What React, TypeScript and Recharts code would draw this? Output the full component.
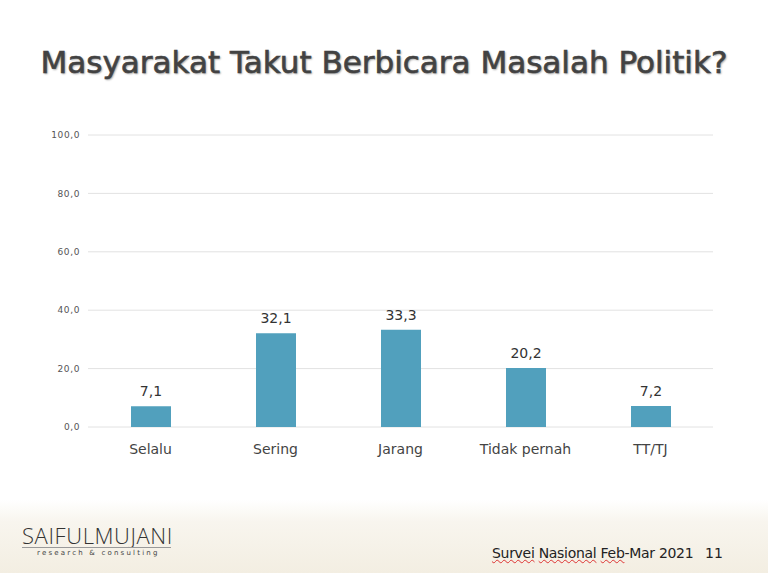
import { BarChart, Bar, XAxis, YAxis, CartesianGrid, LabelList } from "recharts";

const categories = ["Selalu", "Sering", "Jarang", "Tidak pernah", "TT/TJ"];
const values = [7.1, 32.1, 33.3, 20.2, 7.2];
const yTicks = [0, 20, 40, 60, 80, 100];

const data = categories.map((name, i) => ({ name, value: values[i] }));

const fmt = (v: number) => v.toFixed(1).replace(".", ",");

export default function App() {
  return (
    <div
      style={{
        position: "absolute",
        top: 0,
        left: 0,
        width: 768,
        height: 573,
        background: "#fff",
        overflow: "hidden",
        fontFamily: "'DejaVu Sans', Verdana, sans-serif",
      }}
    >
      {/* faint batik band at the bottom */}
      <div
        style={{
          position: "absolute",
          left: 0,
          top: 500,
          width: 768,
          height: 73,
          background: "linear-gradient(to bottom, #ffffff 0%, #f8f5ee 30%, #f3eee2 100%)",
        }}
      />
      <div
        style={{
          position: "absolute",
          top: 42,
          left: 0,
          width: 768,
          textAlign: "center",
          fontSize: 31,
          color: "#424242",
          WebkitTextStroke: "0.6px #424242",
          textShadow: "1px 1px 2px rgba(0,0,0,0.4)",
          lineHeight: "40px",
          whiteSpace: "nowrap",
        }}
      >
        Masyarakat Takut Berbicara Masalah Politik?
      </div>

      <div style={{ position: "absolute", top: 0, left: 0 }}>
        <BarChart
          width={768}
          height={480}
          data={data}
          margin={{ top: 135, right: 55, bottom: 13, left: 28 }}
          barSize={40}
        >
          <CartesianGrid vertical={false} stroke="#e2e2e2" strokeWidth={1} />
          <YAxis
            width={60}
            domain={[0, 100]}
            ticks={yTicks}
            tickFormatter={fmt}
            axisLine={false}
            tickLine={false}
            tickSize={0}
            tickMargin={8}
            tick={{ fontSize: 9, fill: "#555", letterSpacing: 0.6 }}
          />
          <XAxis
            dataKey="name"
            height={40}
            axisLine={false}
            tickLine={false}
            tickSize={0}
            tickMargin={17}
            interval={0}
            tick={{ fontSize: 14, fill: "#444" }}
          />
          <Bar dataKey="value" fill="#51a0bd" isAnimationActive={false}>
            <LabelList
              dataKey="value"
              position="top"
              offset={10}
              formatter={(v: number) => fmt(v)}
              style={{ fontSize: 14, fill: "#333" }}
            />
          </Bar>
        </BarChart>
      </div>

      {/* footer */}
      <div
        style={{
          position: "absolute",
          left: 22,
          top: 523,
          width: 160,
          fontFamily: "'Open Sans', sans-serif",
          fontWeight: 300,
          fontSize: 22,
          color: "#333",
          lineHeight: "24px",
          letterSpacing: 0.6,
          whiteSpace: "nowrap",
        }}
      >
        SAIFULMUJANI
      </div>
      <div style={{ position: "absolute", left: 22, top: 547, width: 149, height: 1, background: "#999" }} />
      <div
        style={{
          position: "absolute",
          left: 37,
          top: 548,
          fontSize: 7,
          letterSpacing: 2.2,
          color: "#444",
          lineHeight: "10px",
          whiteSpace: "nowrap",
        }}
      >
        research &amp; consulting
      </div>
      <div
        style={{
          position: "absolute",
          left: 492,
          top: 544,
          fontSize: 14,
          color: "#222",
          lineHeight: "18px",
          whiteSpace: "nowrap",
          letterSpacing: -0.3,
        }}
      >
        <span style={{ textDecoration: "underline wavy #d33", textDecorationThickness: 1 }}>Survei</span>{" "}
        <span style={{ textDecoration: "underline wavy #d33", textDecorationThickness: 1 }}>Nasional</span>{" "}
        <span style={{ textDecoration: "underline wavy #d33", textDecorationThickness: 1 }}>Feb</span>-Mar 2021
      </div>
      <div
        style={{
          position: "absolute",
          left: 705,
          top: 544,
          fontSize: 14,
          color: "#222",
          lineHeight: "18px",
        }}
      >
        11
      </div>
    </div>
  );
}
